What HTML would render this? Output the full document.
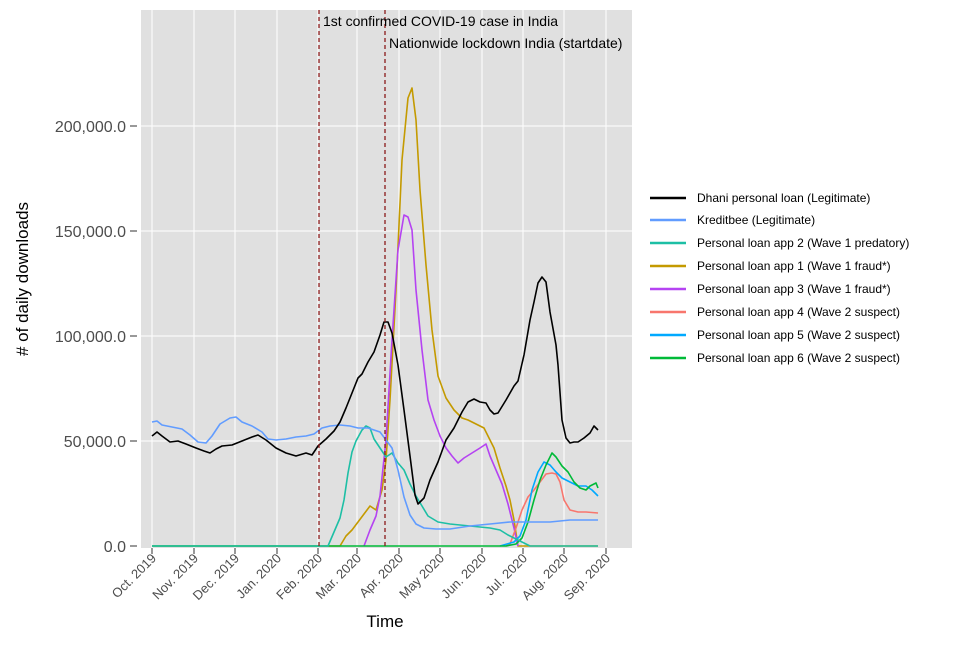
<!DOCTYPE html>
<html><head><meta charset="utf-8"><style>body{margin:0;background:#fff}svg{display:block}text{font-family:"Liberation Sans",sans-serif}</style></head><body>
<svg width="977" height="645" xmlns="http://www.w3.org/2000/svg">
<rect x="141" y="10" width="491" height="538" fill="#e0e0e0"/>
<g stroke="#fff" stroke-width="1">
<line x1="141" x2="632" y1="441" y2="441"/><line x1="141" x2="632" y1="336" y2="336"/><line x1="141" x2="632" y1="231" y2="231"/><line x1="141" x2="632" y1="126" y2="126"/>
<line x1="152" x2="152" y1="10" y2="548"/><line x1="194" x2="194" y1="10" y2="548"/><line x1="235" x2="235" y1="10" y2="548"/><line x1="277" x2="277" y1="10" y2="548"/><line x1="318" x2="318" y1="10" y2="548"/><line x1="357" x2="357" y1="10" y2="548"/><line x1="399" x2="399" y1="10" y2="548"/><line x1="440" x2="440" y1="10" y2="548"/><line x1="482" x2="482" y1="10" y2="548"/><line x1="523" x2="523" y1="10" y2="548"/><line x1="564" x2="564" y1="10" y2="548"/><line x1="606" x2="606" y1="10" y2="548"/>
</g>
<g stroke="#333" stroke-width="1">
<line x1="130" x2="137" y1="546" y2="546"/><line x1="130" x2="137" y1="441" y2="441"/><line x1="130" x2="137" y1="336" y2="336"/><line x1="130" x2="137" y1="231" y2="231"/><line x1="130" x2="137" y1="126" y2="126"/>
<line x1="152" x2="152" y1="548" y2="554"/><line x1="194" x2="194" y1="548" y2="554"/><line x1="235" x2="235" y1="548" y2="554"/><line x1="277" x2="277" y1="548" y2="554"/><line x1="318" x2="318" y1="548" y2="554"/><line x1="357" x2="357" y1="548" y2="554"/><line x1="399" x2="399" y1="548" y2="554"/><line x1="440" x2="440" y1="548" y2="554"/><line x1="482" x2="482" y1="548" y2="554"/><line x1="523" x2="523" y1="548" y2="554"/><line x1="564" x2="564" y1="548" y2="554"/><line x1="606" x2="606" y1="548" y2="554"/>
</g>
<g font-size="16" fill="#4d4d4d" text-anchor="end">
<text x="126" y="552">0.0</text><text x="126" y="447">50,000.0</text><text x="126" y="342">100,000.0</text><text x="126" y="237">150,000.0</text><text x="126" y="132">200,000.0</text>
</g>
<g font-size="13" fill="#4d4d4d" text-anchor="end">
<text transform="translate(157,559) rotate(-45)">Oct. 2019</text>
<text transform="translate(199,559) rotate(-45)">Nov. 2019</text>
<text transform="translate(240,559) rotate(-45)">Dec. 2019</text>
<text transform="translate(282,559) rotate(-45)">Jan. 2020</text>
<text transform="translate(323,559) rotate(-45)">Feb. 2020</text>
<text transform="translate(362,559) rotate(-45)">Mar. 2020</text>
<text transform="translate(404,559) rotate(-45)">Apr. 2020</text>
<text transform="translate(445,559) rotate(-45)">May 2020</text>
<text transform="translate(487,559) rotate(-45)">Jun. 2020</text>
<text transform="translate(528,559) rotate(-45)">Jul. 2020</text>
<text transform="translate(569,559) rotate(-45)">Aug. 2020</text>
<text transform="translate(611,559) rotate(-45)">Sep. 2020</text>
</g>
<text x="385" y="627" font-size="17" text-anchor="middle">Time</text>
<text transform="translate(28,279) rotate(-90)" font-size="17" text-anchor="middle"># of daily downloads</text>
<g fill="none" stroke-width="1.6" stroke-linejoin="round">
<polyline stroke="#C49A00" points="152,546 340,546 346,536 352,530 358,522 364,514 370,506 376,510 382,490 386,460 390,400 396,290 402,160 408,98 412,88 416,120 420,190 426,265 432,330 438,376 446,398 454,410 462,418 468,420 476,424 484,428 488,436 494,448 500,468 506,486 510,500 514,520 518,546 598,546"/>
<polyline stroke="#B543F2" points="364,546 370,530 376,516 380,496 386,440 392,340 398,250 404,215 408,217 412,230 416,290 422,350 428,400 434,420 440,436 446,448 452,456 458,463 464,458 472,453 480,448 486,444 490,456 496,470 502,484 508,504 514,528 518,546"/>
<polyline stroke="#F8766D" points="506,546 510,544 516,528 522,510 528,497 534,490 540,482 546,474 552,473 556,474 560,482 564,500 570,510 578,512 586,512 598,513"/>
<polyline stroke="#00A9FF" points="500,546 514,542 520,536 526,520 532,490 538,472 544,462 550,465 556,472 562,478 570,482 578,486 586,486 592,490 598,496"/>
<polyline stroke="#00BA38" points="152,546 506,546 516,544 522,538 528,522 534,500 540,480 546,465 552,453 556,457 562,466 568,472 574,482 580,488 586,490 590,486 596,483 598,488"/>
<polyline stroke="#1DBFA5" points="152,546 328,546 334,532 340,518 344,500 348,473 352,452 356,441 362,430 366,426 370,428 374,439 380,448 386,457 392,453 398,463 404,470 410,484 416,496 422,506 428,516 438,522 450,524 470,526 490,528 500,530 508,535 514,538 520,541 530,546 598,546"/>
<polyline stroke="#619CFF" points="152,422 157,421 162,425 172,427 182,429 190,435 198,442 206,443 212,436 220,424 230,418 236,417 242,422 252,426 262,432 268,439 276,440 286,439 296,437 306,436 314,434 322,428 330,426 340,425 350,426 358,428 368,428 380,432 386,440 392,448 398,470 404,497 410,515 416,524 424,528 436,529 450,529 470,526 490,524 510,522 530,522 550,522 570,520 598,520"/>
<polyline stroke="#000" points="152,436 157,432 162,436 170,442 178,441 186,444 196,448 204,451 210,453 216,449 222,446 232,445 242,441 252,437 258,435 266,440 276,448 286,453 296,456 306,453 312,455 318,446 326,439 334,431 340,422 346,408 352,393 358,378 362,374 368,362 374,352 380,335 384,322 388,322 392,333 398,365 404,410 410,456 415,495 418,504 424,498 430,480 438,462 446,440 454,428 462,412 468,402 474,399 480,402 486,403 490,410 494,414 498,413 506,400 514,386 518,381 524,355 530,320 534,302 538,283 542,277 546,282 550,312 556,345 558,365 562,420 566,438 570,443 574,442 578,442 584,438 590,433 594,426 598,430"/>
</g>
<g stroke="#8B1A1A" stroke-width="1.3" stroke-dasharray="4,3">
<line x1="319" x2="319" y1="10" y2="548"/><line x1="385" x2="385" y1="10" y2="548"/>
</g>
<text x="323" y="26" font-size="14">1st confirmed COVID-19 case in India</text>
<text x="389" y="48" font-size="14">Nationwide lockdown India (startdate)</text>
<g stroke-width="2.5">
<line x1="650" x2="686" y1="198" y2="198" stroke="#000"/>
<line x1="650" x2="686" y1="220" y2="220" stroke="#619CFF"/>
<line x1="650" x2="686" y1="243" y2="243" stroke="#1DBFA5"/>
<line x1="650" x2="686" y1="266" y2="266" stroke="#C49A00"/>
<line x1="650" x2="686" y1="289" y2="289" stroke="#B543F2"/>
<line x1="650" x2="686" y1="312" y2="312" stroke="#F8766D"/>
<line x1="650" x2="686" y1="335" y2="335" stroke="#00A9FF"/>
<line x1="650" x2="686" y1="358" y2="358" stroke="#00BA38"/>
</g>
<g font-size="12">
<text x="697" y="202">Dhani personal loan (Legitimate)</text>
<text x="697" y="224">Kreditbee (Legitimate)</text>
<text x="697" y="247">Personal loan app 2 (Wave 1 predatory)</text>
<text x="697" y="270">Personal loan app 1 (Wave 1 fraud*)</text>
<text x="697" y="293">Personal loan app 3 (Wave 1 fraud*)</text>
<text x="697" y="316">Personal loan app 4 (Wave 2 suspect)</text>
<text x="697" y="339">Personal loan app 5 (Wave 2 suspect)</text>
<text x="697" y="362">Personal loan app 6 (Wave 2 suspect)</text>
</g>
</svg>
</body></html>
